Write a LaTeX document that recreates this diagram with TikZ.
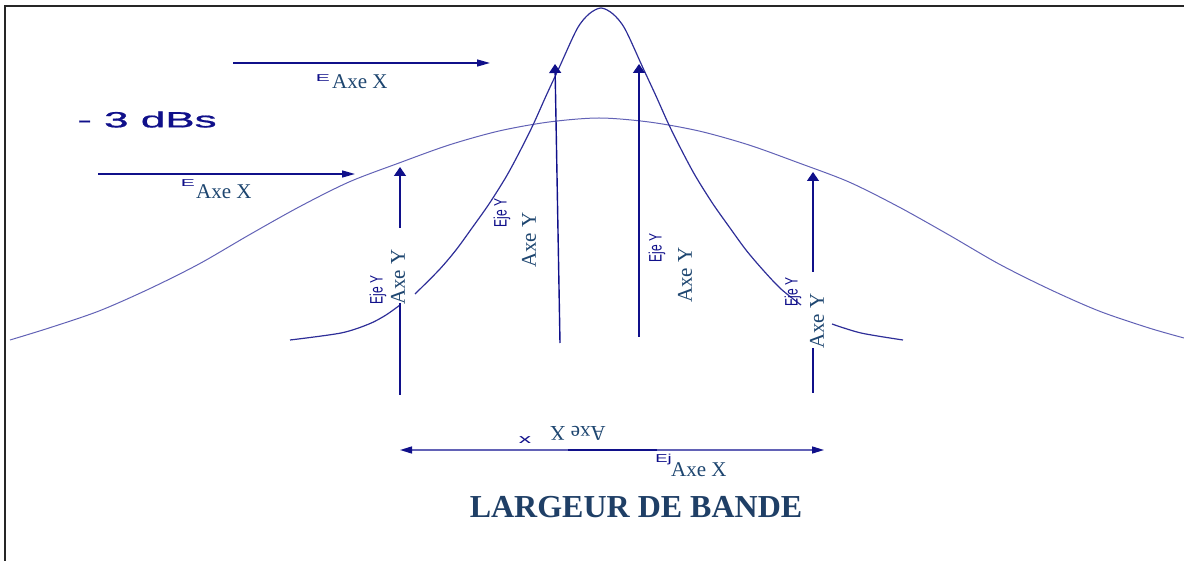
\documentclass[tikz,border=0pt]{standalone}
\usepackage{fontspec}
\setmainfont{Liberation Serif}
\setsansfont{Liberation Sans}
\newfontfamily\dbfont[FakeBold=0.8]{Liberation Sans}
\usetikzlibrary{arrows.meta}
\definecolor{navy}{HTML}{10108A}
\definecolor{curveA}{HTML}{2E2E98}
\definecolor{curveB}{HTML}{6262B6}
\definecolor{axetxt}{HTML}{1E4670}
\definecolor{titletxt}{HTML}{1F3F66}
\begin{document}
\begin{tikzpicture}[x=1pt,y=-1pt,
  harr/.style={draw=navy, line width=1.4pt, -{Triangle[length=13pt,width=7pt]}},
  varr/.style={draw=navy, line width=1.4pt, -{Triangle[length=9pt,width=12pt]}},
  vline/.style={draw=navy, line width=1.4pt},
  narrowc/.style={draw=curveA, line width=1.2pt},
  widec/.style={draw=curveB, line width=1pt},
  axelbl/.style={text=axetxt, font=\fontsize{21}{21}\selectfont, inner sep=0pt},
  ejelbl/.style={text=navy, font=\sffamily\fontsize{12}{12}\selectfont, inner sep=0pt},
  elbl/.style={text=navy, font=\sffamily\fontsize{10}{10}\selectfont, inner sep=0pt},
]
\useasboundingbox (0,0) rectangle (1184,561);
% frame
\coordinate (fbl) at (5,561); \coordinate (ftl) at (5,6); \coordinate (ftr) at (1184,6);
\draw[line width=2pt, black!85] (fbl) -- (ftl) -- (ftr);

% curves
\draw[widec] plot[smooth] coordinates {(10,340) (49,328) (99,311) (149,289) (199,264) (249,235) (299,207) (349,182) (399,163) (449,145) (499,131) (549,122) (599,118) (649,122) (699,131) (749,145) (799,163) (849,182) (899,207) (949,235) (999,264) (1049,289) (1099,311) (1149,328) (1184,338)};
\draw[narrowc] plot[smooth] coordinates {(290,340) (341,333) (369,324) (386,315) (400,305)};
\draw[narrowc] plot[smooth] coordinates {(415,294) (439,270) (456,250) (472,228) (489,204) (506,177) (519,153) (533,125) (546,96) (559,68) (577,29) (589,14) (601,8) (613,14) (625,29) (643,68) (656,96) (669,125) (683,153) (696,177) (713,204) (730,228) (746,250) (763,270) (781,289) (801,305)};
\draw[narrowc] plot[smooth] coordinates {(832,324) (861,333) (903,340)};

% horizontal arrows
\coordinate (h1a) at (233,63); \coordinate (h1b) at (490,63);
\coordinate (h2a) at (98,174); \coordinate (h2b) at (355,174);
\draw[harr] (h1a) -- (h1b);
\draw[harr] (h2a) -- (h2b);

% vertical arrows
\coordinate (v1b) at (400,395); \coordinate (v1m) at (400,303);
\coordinate (v1n) at (400,228); \coordinate (v1t) at (400,167);
\draw[vline] (v1b) -- (v1m);
\draw[varr] (v1n) -- (v1t);
\coordinate (v2b) at (560,343); \coordinate (v2t) at (555,64);
\draw[varr] (v2b) -- (v2t);
\coordinate (v3b) at (639,337); \coordinate (v3t) at (639,64);
\draw[varr] (v3b) -- (v3t);
\coordinate (v4b) at (813,393); \coordinate (v4m) at (813,348);
\coordinate (v4n) at (813,272); \coordinate (v4t) at (813,172);
\draw[vline] (v4b) -- (v4m);
\draw[varr] (v4n) -- (v4t);

% bottom double arrow
\coordinate (bl) at (400,450); \coordinate (br) at (824,450);
\coordinate (bdl) at (568,450); \coordinate (bdr) at (657,450);
\draw[draw=curveB, line width=1.4pt, {Triangle[length=12pt,width=7pt,color=navy]}-{Triangle[length=12pt,width=7pt,color=navy]}] (bl) -- (br);
\draw[navy, line width=1.6pt] (bdl) -- (bdr);

% labels
\node[text=navy, font=\dbfont\fontsize{22}{22}\selectfont, inner sep=0pt] (db) at (147,119.5) {\scalebox{2}[1]{- 3 dBs}};

\node[elbl, anchor=east] (e1) at (330,78) {\scalebox{2.1}[1]{E}};
\node[axelbl, anchor=west] (ax1) at (332,82) {Axe X};
\node[elbl, anchor=east] (e2) at (195,183.5) {\scalebox{2.1}[1]{E}};
\node[axelbl, anchor=west] (ax2) at (196,192) {Axe X};

\node[axelbl, rotate=90] (ay1) at (398,277) {Axe Y};
\node[ejelbl, rotate=90] (ey1) at (378,290) {\scalebox{1}[1.5]{Eje Y}};
\node[axelbl, rotate=90] (ay2) at (529,240) {Axe Y};
\node[ejelbl, rotate=90] (ey2) at (502,213) {\scalebox{1}[1.5]{Eje Y}};
\node[axelbl, rotate=90] (ay3) at (685,275) {Axe Y};
\node[ejelbl, rotate=90] (ey3) at (657,248) {\scalebox{1}[1.5]{Eje Y}};
\node[axelbl, rotate=90] (ay4) at (817,321) {Axe Y};
\node[ejelbl, rotate=90] (ey4) at (793,292) {\scalebox{1}[1.5]{Eje Y}};

\node[elbl, font=\sffamily\fontsize{13}{13}\selectfont] (xs) at (525,440) {\scalebox{1.9}[1]{x}};
\node[axelbl, rotate=180] (axu) at (578,433) {Axe X};
\node[elbl, anchor=east, font=\sffamily\fontsize{11.5}{11.5}\selectfont] (ej) at (672,460) {\scalebox{1.6}[1]{Ej}};
\node[axelbl, anchor=west] (ax3) at (671,470) {Axe X};

\node[text=titletxt, font=\bfseries\fontsize{32}{32}\selectfont, inner sep=0pt] (title) at (636,507) {LARGEUR DE BANDE};
\end{tikzpicture}
\end{document}
